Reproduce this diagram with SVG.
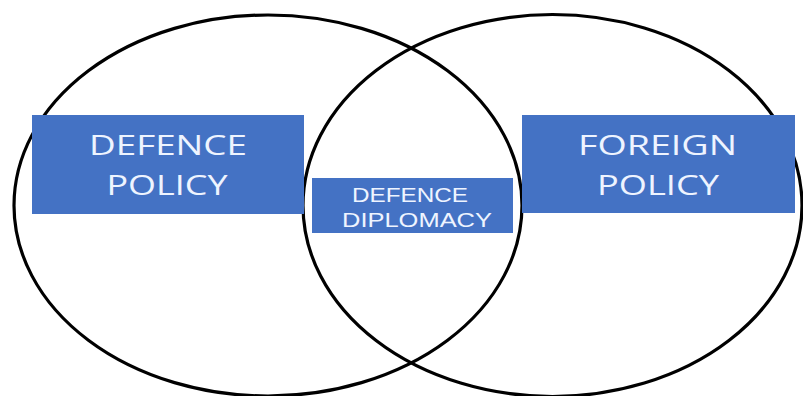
<svg xmlns="http://www.w3.org/2000/svg" width="803" height="396" viewBox="0 0 803 396">
<style>
.ring{fill:none;stroke:#000;stroke-width:3.2}
.box{fill:#4472C4}
.big{font-family:"Open Sans","Liberation Sans",Arial,sans-serif;font-size:28px;font-weight:500;fill:#EEF4FF;text-anchor:middle}
.small{font-family:"Liberation Sans",Arial,sans-serif;font-size:21px;fill:#EEF4FF;text-anchor:middle}
</style>
<rect width="803" height="396" fill="#fff"/>
<g id="connectors">
<ellipse class="ring" cx="268" cy="205.5" rx="254" ry="190.5"/>
<ellipse class="ring" cx="552.5" cy="205.5" rx="249.5" ry="191"/>
</g>
<g id="defence-policy">
<rect class="box" x="32" y="115" width="272" height="99"/>
<text class="big" x="168" y="155" textLength="158" lengthAdjust="spacingAndGlyphs">DEFENCE</text>
<text class="big" x="167" y="195" textLength="121" lengthAdjust="spacingAndGlyphs">POLICY</text>
</g>
<g id="defence-diplomacy">
<rect class="box" x="312" y="178" width="201" height="55"/>
<text class="small" x="410" y="202" textLength="116" lengthAdjust="spacingAndGlyphs">DEFENCE</text>
<text class="small" x="417" y="227" textLength="150" lengthAdjust="spacingAndGlyphs">DIPLOMACY</text>
</g>
<g id="foreign-policy">
<rect class="box" x="522" y="115" width="273" height="98"/>
<text class="big" x="657.5" y="155" textLength="159" lengthAdjust="spacingAndGlyphs">FOREIGN</text>
<text class="big" x="658" y="195" textLength="122" lengthAdjust="spacingAndGlyphs">POLICY</text>
</g>
</svg>
